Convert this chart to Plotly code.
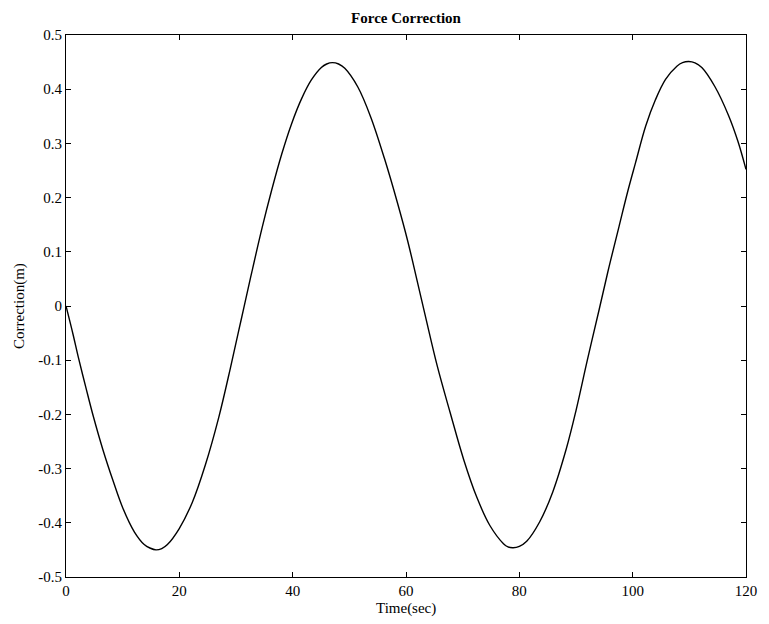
import plotly.graph_objects as go

# Force correction response sampled over the 120 s run
time_s = [0, 1.28, 2.16, 3.5, 4.78, 6.54, 8.29, 10.04, 12.08, 13.8, 14.8,
          15.88, 16.9, 17.9, 19.96, 22.3, 24.6, 26.97, 29.0, 30.47, 31.35,
          32.8, 34.6, 36.3, 38.06, 39.8, 41.6, 43.3, 45.06, 46.0, 47.0,
          48.1, 49.2, 51.5, 53.8, 56.2, 58.5, 60.3, 62.0, 63.45, 65.5,
          67.8, 70.2, 72.5, 74.8, 77.2, 78.0, 78.9, 80.0, 81.3, 83.6,
          85.9, 88.3, 90.0, 92.0, 94.1, 95.85, 97.6, 99.07, 100.5, 102.3,
          104.0, 105.8, 107.8, 108.8, 109.9, 111.0, 112.2, 114.5, 116.9,
          118.6, 120]
correction_m = [0.0, -0.054, -0.094, -0.15, -0.202, -0.266, -0.322, -0.373,
                -0.417, -0.44, -0.4465, -0.45, -0.4475, -0.44, -0.411,
                -0.362, -0.293, -0.205, -0.115, -0.046, -0.005, 0.063,
                0.144, 0.214, 0.28, 0.336, 0.383, 0.417, 0.44, 0.4465,
                0.449, 0.4465, 0.4385, 0.404, 0.348, 0.272, 0.19, 0.12,
                0.045, -0.02, -0.11, -0.197, -0.284, -0.353, -0.405, -0.4385,
                -0.4445, -0.446, -0.4435, -0.434, -0.398, -0.343, -0.263,
                -0.193, -0.1, -0.006, 0.073, 0.147, 0.209, 0.264, 0.332,
                0.38, 0.418, 0.4425, 0.449, 0.451, 0.4485, 0.44, 0.405,
                0.352, 0.303, 0.252]

x_ticks = [0, 20, 40, 60, 80, 100, 120]
y_ticks = [-0.5, -0.4, -0.3, -0.2, -0.1, 0, 0.1, 0.2, 0.3, 0.4, 0.5]

serif = "Liberation Serif, Times New Roman, serif"

fig = go.Figure()
fig.add_trace(go.Scatter(
    x=time_s, y=correction_m, mode="lines",
    line=dict(color="black", width=1.4, shape="spline", smoothing=1.0),
    showlegend=False, hoverinfo="skip",
))

axis_common = dict(
    showgrid=False, zeroline=False,
    showline=True, linecolor="black", linewidth=1, mirror="allticks",
    ticks="inside", ticklen=5, tickwidth=1, tickcolor="black",
    tickfont=dict(family=serif, size=15, color="black"),
)

fig.update_layout(
    width=769, height=624,
    margin=dict(l=66, r=18, t=35, b=47),
    paper_bgcolor="white", plot_bgcolor="white",
    xaxis=dict(range=[0, 120], tickvals=x_ticks, **axis_common),
    yaxis=dict(range=[-0.5, 0.5], tickvals=y_ticks,
               ticktext=[str(v) for v in y_ticks], **axis_common),
    title=dict(text="<b>Force Correction</b>", x=0.5, xanchor="center",
               xref="paper", y=1 - 17.5 / 624, yref="container",
               yanchor="middle",
               font=dict(family=serif, size=15, color="black")),
    annotations=[
        dict(text="Time(sec)", xref="paper", yref="paper", x=0.5, y=0,
             xanchor="center", yanchor="middle", yshift=-31, showarrow=False,
             font=dict(family=serif, size=15, color="black")),
        dict(text="Correction(m)", xref="paper", yref="paper", x=0, y=0.5,
             xanchor="center", yanchor="middle", xshift=-47, textangle=-90,
             showarrow=False,
             font=dict(family=serif, size=15, color="black")),
    ],
)

fig.write_html("out.html")
